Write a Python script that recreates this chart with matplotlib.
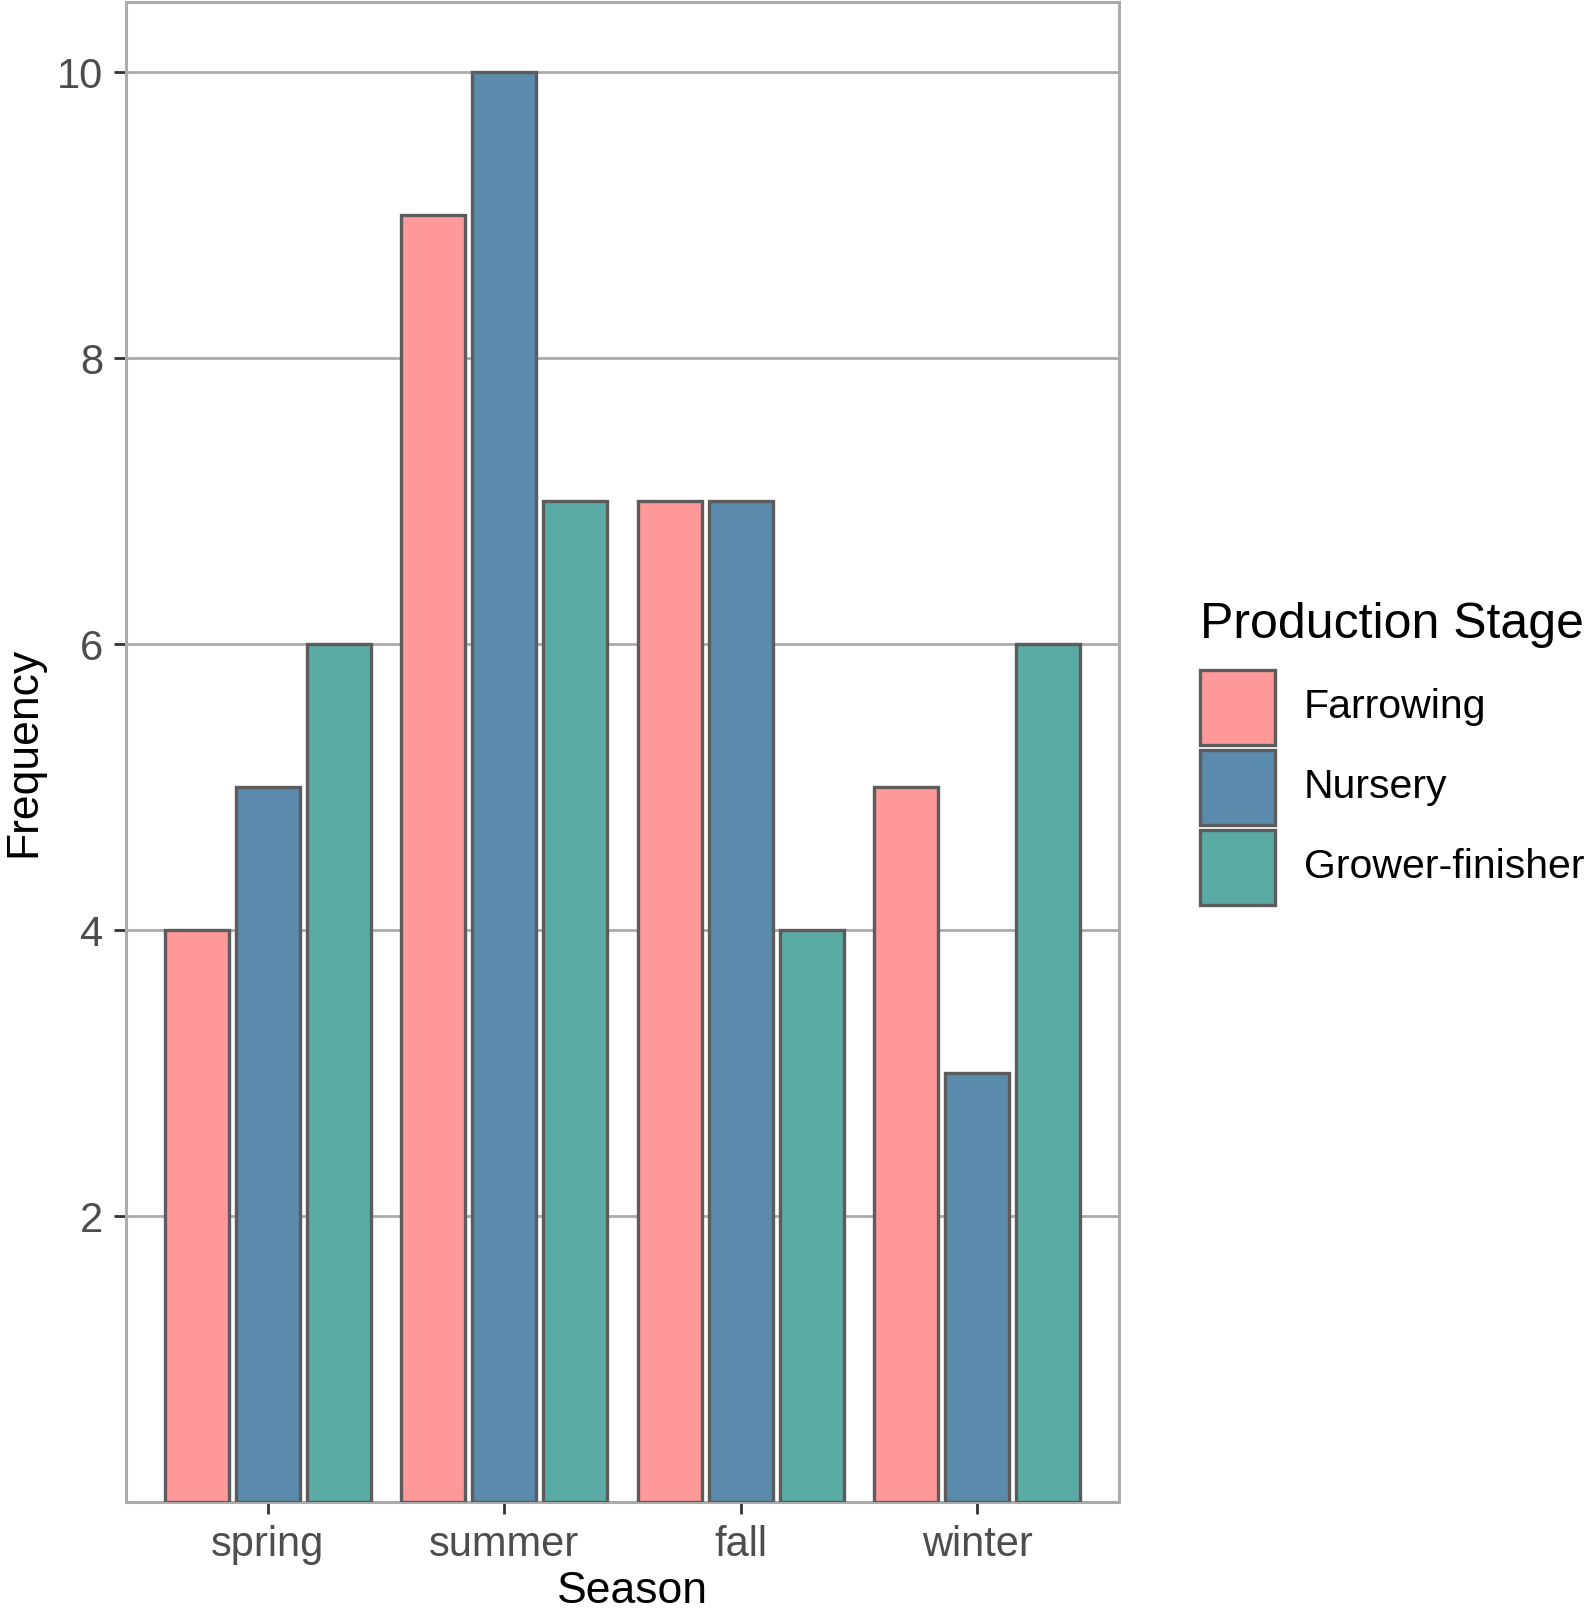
import matplotlib
matplotlib.use("Agg")
import matplotlib.pyplot as plt
from matplotlib.patches import Rectangle
import numpy as np

seasons = ["spring", "summer", "fall", "winter"]
stages = ["Farrowing", "Nursery", "Grower-finisher"]
farrowing = [4, 9, 7, 5]
nursery = [5, 10, 7, 3]
grower_finisher = [6, 7, 4, 6]
colors = ["#FF9999", "#5A8AAC", "#5AABA3"]
y_ticks = [2, 4, 6, 8, 10]

plt.rcParams['font.family'] = ['Liberation Sans', 'DejaVu Sans']

W, H = 1594, 1616
fig = plt.figure(figsize=(W / 100, H / 100), dpi=100)
left, right, top, bottom = 126, 1119, 2, 1502
ax = fig.add_axes([left / W, 1 - bottom / H, (right - left) / W, (bottom - top) / H])

series = [farrowing, nursery, grower_finisher]
x = np.arange(1, len(seasons) + 1)
dodge = 0.3
bw = 0.27
edge = "#5C5C5C"
for i, (vals, c) in enumerate(zip(series, colors)):
    ax.bar(x + (i - 1) * dodge, vals, width=bw, color=c, edgecolor=edge,
           linewidth=2.4, zorder=3)

ax.set_xlim(0.4, 4.6)
ax.set_ylim(0, 10.49)
ax.set_xticks(x)
ax.set_xticklabels(seasons)
ax.set_yticks(y_ticks)
ax.set_yticklabels([str(v) for v in y_ticks])
ax.grid(axis='y', color="#ABABAB", linewidth=2.0, zorder=0)
ax.grid(axis='x', visible=False)
for s in ax.spines.values():
    s.set_color("#ABABAB")
    s.set_linewidth(2.2)
ax.tick_params(axis='both', colors="#333333", length=8.5, width=2.0,
               labelsize=30, labelcolor="#4D4D4D")
ax.tick_params(axis='x', pad=8)
ax.tick_params(axis='y', pad=8)
ax.set_xlabel("Season", fontsize=32, color="black")
ax.xaxis.set_label_coords(0.51, -0.0735, transform=ax.transAxes)
ax.xaxis.label.set_va('bottom')

# y-axis title placed explicitly near the left edge
fig.text(3 / W, 1 - (top + bottom) / 2 / H, "Frequency", fontsize=32, color="black",
         rotation=90, rotation_mode='default', ha='left', va='center')

# legend drawn manually
fig.text(1200 / W, 1 - 638 / H, "Production Stage", fontsize=36, color="black",
         ha='left', va='baseline')
key_top = 668
for i, (name, c) in enumerate(zip(stages, colors)):
    y0 = key_top + i * 80
    fig.patches.append(Rectangle(((1198 + 1.5) / W, 1 - (y0 + 76.5) / H), 75 / W, 75 / H,
                                 transform=fig.transFigure, facecolor=c,
                                 edgecolor=edge, linewidth=2.4))
    fig.text(1304 / W, 1 - (y0 + 39) / H, name, fontsize=29.5,
             color="black", ha='left', va='center')

fig.savefig("out.png", dpi=100)
